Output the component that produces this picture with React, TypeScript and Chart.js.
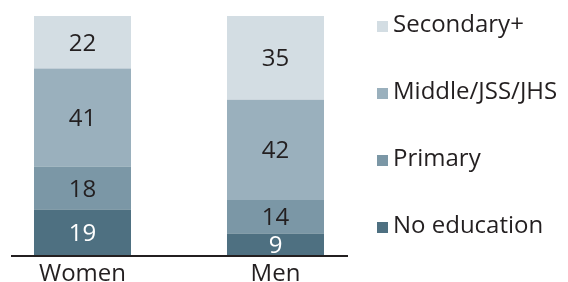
import React, { useEffect, useRef } from "react";
import { Chart, registerables } from "chart.js";

Chart.register(...registerables);

const categories = ["Women", "Men"];
const seriesNames = ["No education", "Primary", "Middle/JSS/JHS", "Secondary+"];
const noEducation = [19, 9];
const primary = [18, 14];
const middle = [41, 42];
const secondary = [22, 35];

const colors = ["#4e7081", "#7b97a6", "#9ab0bd", "#d3dde3"];
const labelColors = ["#ffffff", "#231f20", "#231f20", "#231f20"];
const FONT = "'Open Sans', 'DejaVu Sans', sans-serif";

const valueLabels = {
  id: "valueLabels",
  afterDatasetsDraw(chart: any) {
    const ctx = chart.ctx;
    ctx.save();
    ctx.font = `24px ${FONT}`;
    ctx.textAlign = "center";
    ctx.textBaseline = "alphabetic";
    chart.data.datasets.forEach((ds: any, di: number) => {
      const meta = chart.getDatasetMeta(di);
      meta.data.forEach((el: any, i: number) => {
        const cy = (el.y + el.base) / 2;
        ctx.fillStyle = labelColors[di];
        ctx.fillText(String(ds.data[i]), el.x, cy + 8.5);
      });
    });
    ctx.restore();
  },
};

const customLegend = {
  id: "customLegend",
  afterDraw(chart: any) {
    const ctx = chart.ctx;
    ctx.save();
    ctx.font = `24px ${FONT}`;
    ctx.textAlign = "left";
    ctx.textBaseline = "alphabetic";
    const n = chart.data.datasets.length;
    for (let k = 0; k < n; k++) {
      const di = n - 1 - k;
      const ds = chart.data.datasets[di];
      const baseY = 32 + k * 67;
      ctx.fillStyle = ds.backgroundColor;
      ctx.fillRect(377, baseY - 11, 11, 11);
      ctx.fillStyle = "#231f20";
      ctx.fillText(ds.label, 393, baseY);
    }
    ctx.restore();
  },
};

const axisLine = {
  id: "axisLine",
  afterDatasetsDraw(chart: any) {
    const ctx = chart.ctx;
    const y = chart.chartArea.bottom + 1;
    ctx.save();
    ctx.strokeStyle = "#231f20";
    ctx.lineWidth = 2;
    ctx.beginPath();
    ctx.moveTo(11, y);
    ctx.lineTo(348, y);
    ctx.stroke();
    ctx.restore();
  },
};

export default function App() {
  const ref = useRef<HTMLCanvasElement>(null);
  useEffect(() => {
    document.body.style.margin = "0";
    const series = [noEducation, primary, middle, secondary];
    const chart = new Chart(ref.current!, {
      type: "bar",
      data: {
        labels: categories,
        datasets: series.map((d, i) => ({
          label: seriesNames[i],
          data: d,
          backgroundColor: colors[i],
          borderWidth: 0,
          clip: false as any,
          categoryPercentage: 1,
          barPercentage: 0.5026,
        })),
      },
      options: {
        responsive: false,
        animation: false,
        layout: { padding: { left: 82.5, right: 292.5, top: 16, bottom: 0 } },
        plugins: { legend: { display: false }, tooltip: { enabled: false } },
        scales: {
          x: {
            stacked: true,
            offset: false,
            grid: { display: false, drawTicks: false },
            border: { display: false },
            afterFit: (scale: any) => {
              scale.height = 27;
            },
            ticks: {
              padding: 4.5,
              color: "#231f20",
              font: { family: FONT, size: 24 },
              maxRotation: 0,
              autoSkip: false,
            },
          },
          y: {
            stacked: true,
            display: false,
            min: 0,
            max: 100,
          },
        },
      },
      plugins: [valueLabels, axisLine, customLegend],
    });
    return () => chart.destroy();
  }, []);
  return <canvas ref={ref} width={568} height={282} style={{ display: "block" }} />;
}
